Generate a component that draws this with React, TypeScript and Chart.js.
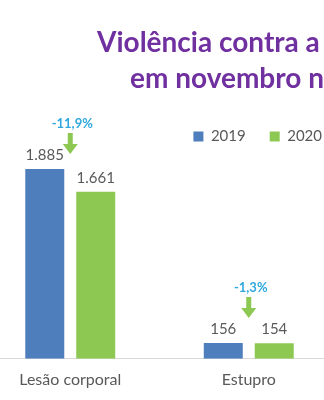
import { useEffect, useRef } from 'react';
import { Chart, registerables } from 'chart.js';

Chart.register(...registerables);

const categories = ['Lesão corporal', 'Estupro'];
const seriesNames = ['2019', '2020'];
const values2019 = [1885, 156];
const values2020 = [1661, 154];
const changeLabels = ['-11,9%', '-1,3%'];
const titleLines = ['Violência contra a', 'em novembro n'];

const BLUE = '#4F7EBD';
const GREEN = '#8DC853';
const PURPLE = '#7030A0';
const CYAN = '#2FA8DF';
const GRAY = '#595959';
const FONT = 'Lato, "Open Sans", sans-serif';

function fmt(n: number): string {
  return String(n).replace(/\B(?=(\d{3})+(?!\d))/g, '.');
}

const valueLabelPlugin = {
  id: 'valueLabels',
  afterDatasetsDraw(chart: any) {
    const ctx = chart.ctx;
    ctx.save();
    ctx.font = `15px ${FONT}`;
    ctx.fillStyle = GRAY;
    ctx.textAlign = 'center';
    ctx.textBaseline = 'alphabetic';
    chart.data.datasets.forEach((ds: any, di: number) => {
      const meta = chart.getDatasetMeta(di);
      meta.data.forEach((bar: any, i: number) => {
        ctx.fillText(fmt(ds.data[i]), bar.x, bar.y - 9);
      });
    });
    ctx.restore();
  },
};

const titlePlugin = {
  id: 'clippedTitle',
  afterDraw(chart: any, _args: any, opts: any) {
    const ctx = chart.ctx;
    ctx.save();
    ctx.font = `bold 28px ${FONT}`;
    ctx.fillStyle = PURPLE;
    ctx.textAlign = 'left';
    ctx.textBaseline = 'alphabetic';
    opts.lines.forEach((line: string, i: number) => {
      ctx.fillText(line, opts.x[i], opts.y[i]);
    });
    ctx.restore();
  },
};

const legendShiftPlugin = {
  id: 'legendShift',
  afterLayout(chart: any, _args: any, opts: any) {
    if (chart.legend) {
      chart.legend.left += opts.dx;
      chart.legend.right += opts.dx;
    }
  },
};

const changePlugin = {
  id: 'changeArrows',
  afterDatasetsDraw(chart: any, _args: any, opts: any) {
    const ctx = chart.ctx;
    const xs = chart.scales.x;
    const ys = chart.scales.y;
    ctx.save();
    opts.labels.forEach((label: string, i: number) => {
      const cx = xs.getPixelForValue(i);
      const maxV = Math.max(values2019[i], values2020[i]);
      const tip = ys.getPixelForValue(maxV) - opts.gaps[i];
      const h = 21;
      const headH = 10;
      const headW = 15;
      const shaftW = 5;
      const top = tip - h;
      ctx.fillStyle = GREEN;
      ctx.beginPath();
      ctx.moveTo(cx - shaftW / 2, top);
      ctx.lineTo(cx + shaftW / 2, top);
      ctx.lineTo(cx + shaftW / 2, tip - headH);
      ctx.lineTo(cx + headW / 2, tip - headH);
      ctx.lineTo(cx, tip);
      ctx.lineTo(cx - headW / 2, tip - headH);
      ctx.lineTo(cx - shaftW / 2, tip - headH);
      ctx.closePath();
      ctx.fill();
      ctx.font = `bold 13px ${FONT}`;
      ctx.fillStyle = CYAN;
      ctx.textAlign = 'center';
      ctx.textBaseline = 'alphabetic';
      ctx.fillText(label, cx + 2, top - 5);
    });
    ctx.restore();
  },
};

export default function App() {
  const ref = useRef<HTMLCanvasElement | null>(null);
  useEffect(() => {
    if (!ref.current) return;
    const chart = new Chart(ref.current, {
      type: 'bar',
      data: {
        labels: categories,
        datasets: [
          {
            label: seriesNames[0],
            data: values2019,
            backgroundColor: BLUE,
            barPercentage: 0.765,
            categoryPercentage: 0.571,
          },
          {
            label: seriesNames[1],
            data: values2020,
            backgroundColor: GREEN,
            barPercentage: 0.765,
            categoryPercentage: 0.571,
          },
        ],
      },
      options: {
        responsive: true,
        maintainAspectRatio: false,
        animation: false,
        layout: { padding: { top: 105, bottom: 0, left: 0, right: 0 } },
        plugins: {
          legend: {
            position: 'top',
            align: 'end',
            labels: {
              boxWidth: 10,
              boxHeight: 10,
              padding: 24,
              color: GRAY,
              font: { family: FONT, size: 15 },
            },
          },
          title: { display: false },
          tooltip: { enabled: false },
          clippedTitle: { lines: titleLines, x: [116, 149], y: [52, 88] },
          changeArrows: { labels: changeLabels, gaps: [15, 25] },
          legendShift: { dx: 8 },
        } as any,
        scales: {
          x: {
            grid: { display: false, drawTicks: false },
            border: { display: true, color: '#D9D9D9', width: 1 },
            ticks: { color: GRAY, font: { family: FONT, size: 16 }, padding: 11 },
          },
          y: { display: false, min: 0, max: 2035 },
        },
      },
      plugins: [valueLabelPlugin, titlePlugin, changePlugin, legendShiftPlugin],
    });
    return () => chart.destroy();
  }, []);
  return (
    <div
      style={{
        position: 'fixed',
        left: 0,
        top: 0,
        width: 324,
        height: 400,
        overflow: 'hidden',
        background: '#ffffff',
      }}
    >
      <div style={{ position: 'absolute', left: -19, top: 0, width: 357, height: 400 }}>
        <canvas ref={ref} />
      </div>
    </div>
  );
}
